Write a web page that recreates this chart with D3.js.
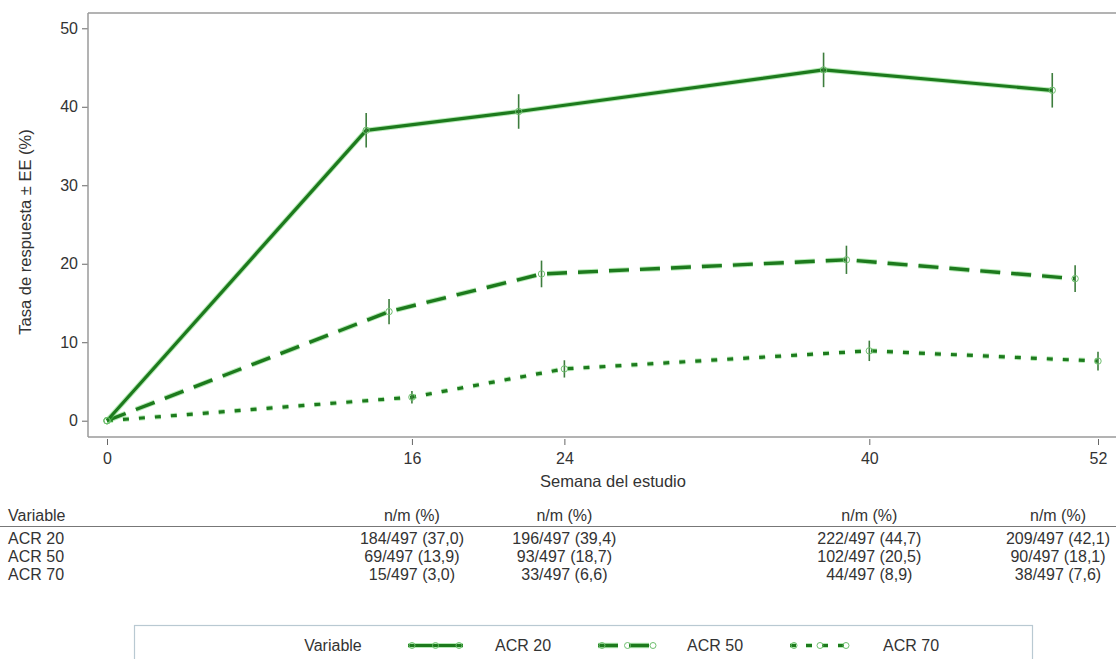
<!DOCTYPE html>
<html>
<head>
<meta charset="utf-8">
<script src="https://cdn.jsdelivr.net/npm/d3@7/dist/d3.min.js"></script>
<style>
  html, body { margin: 0; padding: 0; background: #fff; }
  svg { display: block; font-family: "Liberation Sans", Arial, sans-serif; }
</style>
</head>
<body>
<svg id="chart" width="1116" height="659"></svg>
<script>
// ---- data ----
const weeks = [0, 16, 24, 40, 52];
const seriesNames = ["ACR 20", "ACR 50", "ACR 70"];
const acr20 = [0, 37.0, 39.4, 44.7, 42.1];
const acr50 = [0, 13.9, 18.7, 20.5, 18.1];
const acr70 = [0, 3.0, 6.6, 8.9, 7.6];
const se20 = [0, 2.2, 2.2, 2.2, 2.2];
const se50 = [0, 1.6, 1.7, 1.8, 1.7];
const se70 = [0, 0.8, 1.1, 1.3, 1.2];
const yTicks = [0, 10, 20, 30, 40, 50];
const tableHeader = "n/m (%)";
const table20 = ["184/497 (37,0)", "196/497 (39,4)", "222/497 (44,7)", "209/497 (42,1)"];
const table50 = ["69/497 (13,9)", "93/497 (18,7)", "102/497 (20,5)", "90/497 (18,1)"];
const table70 = ["15/497 (3,0)", "33/497 (6,6)", "44/497 (8,9)", "38/497 (7,6)"];

// ---- styles ----
const green = "#1d7a1d";
const glow = "#5fd35f";
const textCol = "#333";
const frameCol = "#9a9a9a";
const fontFam = "'Liberation Sans', Arial, sans-serif";
const styles = [
  { dash: null, width: 3.2, dodge: -2.4 },
  { dash: "20,11", width: 3.4, dodge: -1.2 },
  { dash: "6,10", width: 3.2, dodge: 0 }
];

const svg = d3.select("#chart");
const W = 1116;
const plotLeft = 88, plotTop = 13, plotBottom = 437;

const x = d3.scaleLinear().domain([0, 52]).range([107, 1098]);
const y = d3.scaleLinear().domain([0, 50]).range([420.7, 28.3]);

// frame
svg.append("line").attr("x1", plotLeft).attr("x2", W).attr("y1", plotTop).attr("y2", plotTop)
  .attr("stroke", frameCol).attr("stroke-width", 1.5);

// y axis
const yAxis = svg.append("g").attr("transform", `translate(${plotLeft},0)`)
  .call(d3.axisLeft(y).tickValues(yTicks).tickSize(6).tickPadding(4));
yAxis.select(".domain").remove();
yAxis.append("line").attr("x1", 0).attr("x2", 0).attr("y1", plotTop).attr("y2", plotBottom)
  .attr("stroke", frameCol).attr("stroke-width", 1.5);
yAxis.selectAll(".tick line").attr("stroke", "#666");
yAxis.selectAll(".tick text").attr("fill", textCol).style("font-size", "16px")
  .style("font-family", fontFam);

// x axis
const xAxis = svg.append("g").attr("transform", `translate(0,${plotBottom})`)
  .call(d3.axisBottom(x).tickValues(weeks).tickSize(8).tickPadding(8));
xAxis.select(".domain").remove();
xAxis.append("line").attr("x1", plotLeft).attr("x2", W).attr("y1", 0).attr("y2", 0)
  .attr("stroke", frameCol).attr("stroke-width", 1.5);
xAxis.selectAll(".tick line").attr("stroke", "#666").attr("y1", 2);
xAxis.selectAll(".tick text").attr("fill", textCol).style("font-size", "16px")
  .style("font-family", fontFam);

// axis titles
svg.append("text").attr("transform", `translate(31,232) rotate(-90)`)
  .attr("text-anchor", "middle").attr("fill", textCol).style("font-size", "16.5px")
  .text("Tasa de respuesta ± EE (%)");
svg.append("text").attr("x", 613).attr("y", 487).attr("text-anchor", "middle")
  .attr("fill", textCol).style("font-size", "16.5px").text("Semana del estudio");

// series
const allVals = [acr20, acr50, acr70];
const allSE = [se20, se50, se70];
const seriesData = seriesNames.map((name, i) => ({
  name, style: styles[i],
  pts: weeks.map((w, j) => ({ w: w === 0 ? w : w + styles[i].dodge, v: allVals[i][j], se: allSE[i][j] }))
}));

const line = d3.line().x(d => x(d.w)).y(d => y(d.v));

const gS = svg.append("g");
seriesData.slice().reverse().forEach(s => {
  const g = gS.append("g");
  g.append("path").datum(s.pts).attr("d", line).attr("fill", "none")
    .attr("stroke", glow).attr("stroke-opacity", 0.45).attr("stroke-width", s.style.width + 2)
    .attr("stroke-dasharray", s.style.dash).attr("stroke-linejoin", "round");
  g.append("path").datum(s.pts).attr("d", line).attr("fill", "none")
    .attr("stroke", green).attr("stroke-width", s.style.width)
    .attr("stroke-dasharray", s.style.dash).attr("stroke-linejoin", "round");
  g.selectAll(".eb").data(s.pts.filter(d => d.se > 0)).join("line")
    .attr("x1", d => x(d.w)).attr("x2", d => x(d.w))
    .attr("y1", d => y(d.v - d.se)).attr("y2", d => y(d.v + d.se))
    .attr("stroke", "#3d7d3d").attr("stroke-width", 1.6);
  g.selectAll(".mk").data(s.pts).join("circle")
    .attr("cx", d => x(d.w)).attr("cy", d => y(d.v)).attr("r", 3.2)
    .attr("fill", "none").attr("stroke", "#6fbf6f").attr("stroke-width", 1);
});

// ---- table ----
const tableFont = "16px";
const colWeeks = weeks.slice(1);
const colX = w => Math.min(x(w), W - 58);
svg.append("text").attr("x", 8).attr("y", 521).attr("fill", textCol).style("font-size", tableFont).text("Variable");
colWeeks.forEach(w => {
  svg.append("text").attr("x", colX(w)).attr("y", 521).attr("text-anchor", "middle")
    .attr("fill", textCol).style("font-size", tableFont).text(tableHeader);
});
svg.append("line").attr("x1", 0).attr("x2", W).attr("y1", 526.5).attr("y2", 526.5)
  .attr("stroke", "#777").attr("stroke-width", 1.2);
const tableRows = [table20, table50, table70];
tableRows.forEach((row, i) => {
  const yy = 544 + i * 18;
  svg.append("text").attr("x", 8).attr("y", yy).attr("fill", textCol).style("font-size", tableFont).text(seriesNames[i]);
  row.forEach((t, j) => {
    svg.append("text").attr("x", colX(colWeeks[j])).attr("y", yy).attr("text-anchor", "middle")
      .attr("fill", textCol).style("font-size", tableFont).text(t);
  });
});

// ---- legend ----
const lg = svg.append("g");
lg.append("rect").attr("x", 134.5).attr("y", 625.5).attr("width", 898).attr("height", 40)
  .attr("fill", "#fff").attr("stroke", "#b9c9d2").attr("stroke-width", 1.2);
lg.append("text").attr("x", 333).attr("y", 651).attr("text-anchor", "middle")
  .attr("fill", textCol).style("font-size", "16px").text("Variable");
const legendItems = [
  { x1: 408, x2: 463, tx: 495 },
  { x1: 598, x2: 657, tx: 687 },
  { x1: 790, x2: 850, tx: 883 }
];
seriesData.forEach((s, i) => {
  const li = legendItems[i];
  const ly = 645.5;
  lg.append("line").attr("x1", li.x1).attr("x2", li.x2).attr("y1", ly).attr("y2", ly)
    .attr("stroke", glow).attr("stroke-opacity", 0.45).attr("stroke-width", s.style.width + 2)
    .attr("stroke-dasharray", s.style.dash);
  lg.append("line").attr("x1", li.x1).attr("x2", li.x2).attr("y1", ly).attr("y2", ly)
    .attr("stroke", green).attr("stroke-width", s.style.width)
    .attr("stroke-dasharray", s.style.dash);
  const mks = [li.x1 + 4, (li.x1 + li.x2) / 2, li.x2 - 4];
  mks.forEach(mx => {
    lg.append("circle").attr("cx", mx).attr("cy", ly).attr("r", 3)
      .attr("fill", "none").attr("stroke", "#6fbf6f").attr("stroke-width", 1);
  });
  lg.append("text").attr("x", li.tx).attr("y", 651).attr("fill", textCol)
    .style("font-size", "16px").text(s.name);
});
</script>
</body>
</html>
